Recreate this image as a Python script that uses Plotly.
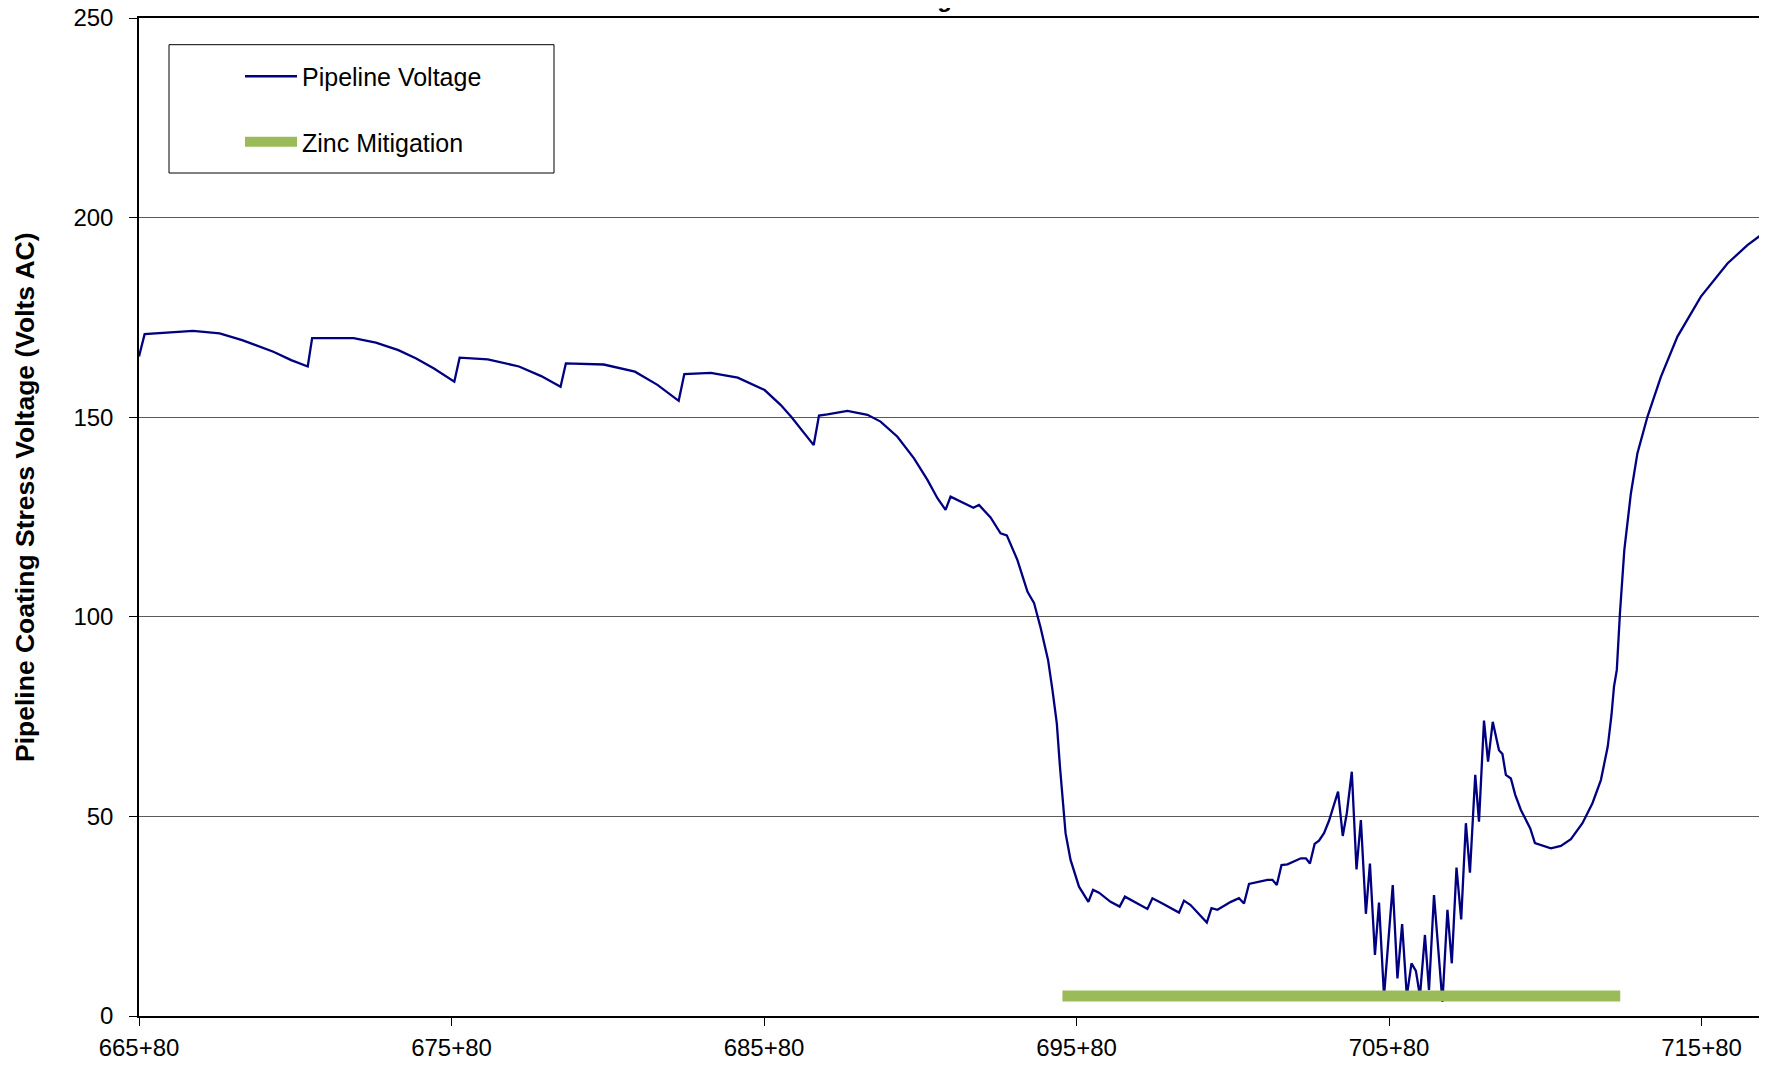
import plotly.graph_objects as go

# Station positions (ft) and pipeline AC stress voltage
station_ft = [
    66580, 66598, 66753, 66838, 66910, 67010, 67067, 67120, 67134, 67267,
    67338, 67410, 67467, 67524, 67589, 67606, 67696, 67796, 67867, 67929,
    67946, 68067, 68167, 68239, 68307, 68325, 68410, 68496, 68582, 68633,
    68667, 68739, 68756, 68783, 68847, 68911, 68953, 69007, 69060, 69103,
    69135, 69161, 69177, 69209, 69250, 69268, 69305, 69337, 69357, 69391,
    69423, 69431, 69444, 69465, 69489, 69503, 69517, 69527, 69538, 69545,
    69561, 69588, 69618, 69633, 69652, 69689, 69718, 69735, 69807, 69823,
    69855, 69908, 69924, 69945, 69997, 70012, 70031, 70074, 70100, 70116,
    70132, 70191, 70207, 70221, 70236, 70255, 70298, 70314, 70327, 70342,
    70356, 70372, 70388, 70417, 70432, 70445, 70461, 70476, 70490, 70506,
    70519, 70535, 70548, 70564, 70592, 70607, 70622, 70637, 70652, 70666,
    70679, 70695, 70708, 70724, 70751, 70767, 70781, 70796, 70811, 70826,
    70839, 70856, 70868, 70884, 70897, 70912, 70927, 70932, 70943, 70954,
    70970, 70984, 71002, 71032, 71047, 71098, 71130, 71162, 71199, 71231,
    71258, 71280, 71292, 71300, 71309, 71313, 71319, 71333, 71354, 71375,
    71407, 71450, 71503, 71578, 71663, 71727, 71780,
]
pipeline_voltage = [
    165.2, 170.8, 171.6, 171.0, 169.3, 166.4, 164.3, 162.7, 169.8, 169.8,
    168.7, 166.8, 164.7, 162.2, 158.9, 164.9, 164.5, 162.7, 160.3, 157.6,
    163.5, 163.2, 161.4, 158.1, 154.1, 160.8, 161.1, 159.9, 156.8, 153.1,
    150.1, 143.0, 150.4, 150.7, 151.6, 150.6, 148.9, 145.1, 139.7, 134.3,
    129.7, 126.8, 130.1, 128.8, 127.3, 128.0, 124.9, 120.9, 120.4, 114.2,
    106.3, 105.2, 103.5, 97.3, 89.2, 81.7, 73.3, 62.5, 52.4, 45.8,
    39.1, 32.4, 28.6, 31.6, 30.9, 28.6, 27.4, 29.9, 26.8, 29.5,
    28.2, 25.9, 28.9, 27.8, 23.4, 27.0, 26.6, 28.6, 29.5, 28.2,
    33.1, 34.1, 34.1, 32.8, 37.8, 38.0, 39.5, 39.5, 38.2, 43.1,
    43.9, 45.8, 48.9, 56.2, 45.1, 50.8, 61.2, 36.7, 49.1, 25.6,
    38.2, 15.3, 28.4, 5.0, 32.8, 9.4, 23.0, 5.0, 13.2, 11.3,
    5.0, 20.3, 6.5, 30.3, 3.5, 26.6, 13.2, 37.2, 24.2, 48.3,
    35.9, 60.4, 48.7, 74.0, 63.7, 73.7, 68.3, 66.6, 65.6, 60.4,
    59.5, 55.4, 51.6, 47.0, 43.3, 42.0, 42.6, 44.3, 48.3, 53.3,
    59.1, 67.5, 75.4, 82.5, 86.7, 93.4, 100.9, 116.7, 130.9, 141.0,
    150.1, 160.1, 170.2, 180.2, 188.5, 193.1, 196.2,
]

# Zinc mitigation extent
zinc_ft = [69535, 71320]
zinc_level = [5, 5]

# Axis ticks
tick_ft = [66580, 67580, 68580, 69580, 70580, 71580]
tick_labels = ["665+80", "675+80", "685+80", "695+80", "705+80", "715+80"]
y_ticks = [0, 50, 100, 150, 200, 250]

FONT = "Liberation Sans, Arial, sans-serif"

fig = go.Figure()
fig.add_trace(go.Scatter(
    x=station_ft, y=pipeline_voltage, mode="lines", name="Pipeline Voltage",
    line=dict(color="#000080", width=2.3), legendgroup="a",
))
fig.add_trace(go.Scatter(
    x=zinc_ft, y=zinc_level, mode="lines", name="Zinc Mitigation",
    line=dict(color="#9BBB59", width=11), legendgroup="b",
))

# Page offset of the plot div (default body margin)
OFF = 8
W, H = 1767 - OFF, 1070 - OFF
# Plot area in page pixels
PL, PR, PT, PB = 139, 1764, 18, 1016
ML, MR, MT, MB = PL - OFF, (W + OFF) - PR, PT - OFF, (H + OFF) - PB
pw, ph = PR - PL, PB - PT

def px(xp):
    return (xp - PL) / pw

def py(yp):
    return (PB - yp) / ph

fig.update_layout(
    width=W, height=H,
    margin=dict(l=ML, r=MR, t=MT, b=MB, autoexpand=False),
    paper_bgcolor="white", plot_bgcolor="white",
    font=dict(family=FONT, size=24, color="black"),
    showlegend=True,
    legend=dict(
        x=px(240), y=py(53.5), xanchor="left", yanchor="top",
        bgcolor="rgba(0,0,0,0)", borderwidth=0,
        font=dict(size=25, color="black"),
        traceorder="grouped", tracegroupgap=30, itemwidth=52,
    ),
    xaxis=dict(
        range=[66580, 71780], tickmode="array", tickvals=tick_ft, ticktext=tick_labels,
        showgrid=False, zeroline=False, showline=True, linecolor="black", linewidth=1.5,
        mirror=True, ticks="outside", ticklen=8, tickcolor="black", automargin=False,
        tickfont=dict(size=24), ticklabelstandoff=1, ticklabeloverflow="allow",
    ),
    yaxis=dict(
        range=[0, 250], tickvals=y_ticks,
        showgrid=True, gridcolor="#5a5a5a", gridwidth=1,
        zeroline=False, showline=True, linecolor="black", linewidth=1.5,
        mirror=True, ticks="outside", ticklen=8, tickcolor="black", automargin=False,
        tickfont=dict(size=24), ticklabelstandoff=11, ticklabeloverflow="allow",
    ),
    shapes=[dict(
        type="rect", xref="paper", yref="paper",
        x0=px(169), x1=px(554), y0=py(173), y1=py(44.7),
        line=dict(color="black", width=1), fillcolor="rgba(0,0,0,0)",
    )],
    annotations=[
        dict(
            text="<b>Pipeline Coating Stress Voltage (Volts AC)</b>",
            xref="paper", yref="paper", x=px(25), y=py(497),
            xanchor="center", yanchor="middle", textangle=-90,
            showarrow=False, font=dict(size=26.5, color="black"),
        ),
        dict(
            text="<b>Zinc Mitigation</b>", xref="paper", yref="paper",
            x=px(924), y=py(14), xanchor="center", yanchor="bottom",
            showarrow=False, font=dict(size=24, color="black"),
        ),
    ],
)

fig.write_html("out.html")
